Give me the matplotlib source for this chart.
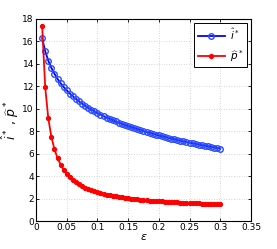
import matplotlib
matplotlib.use("Agg")
import matplotlib.pyplot as plt

eps = [0.010, 0.015, 0.020, 0.025, 0.030, 0.035, 0.040, 0.045, 0.050, 0.055,
       0.060, 0.065, 0.070, 0.075, 0.080, 0.085, 0.090, 0.095, 0.100, 0.105,
       0.110, 0.115, 0.120, 0.125, 0.130, 0.135, 0.140, 0.145, 0.150, 0.155,
       0.160, 0.165, 0.170, 0.175, 0.180, 0.185, 0.190, 0.195, 0.200, 0.205,
       0.210, 0.215, 0.220, 0.225, 0.230, 0.235, 0.240, 0.245, 0.250, 0.255,
       0.260, 0.265, 0.270, 0.275, 0.280, 0.285, 0.290, 0.295, 0.300]

i_star = [16.30, 15.12, 14.29, 13.64, 13.12, 12.67, 12.28, 11.94, 11.64, 11.36,
          11.11, 10.88, 10.66, 10.46, 10.27, 10.10, 9.93, 9.78, 9.63, 9.49,
          9.35, 9.22, 9.10, 8.98, 8.87, 8.76, 8.65, 8.55, 8.45, 8.36,
          8.27, 8.18, 8.09, 8.01, 7.93, 7.85, 7.77, 7.69, 7.62, 7.55,
          7.48, 7.41, 7.35, 7.28, 7.22, 7.15, 7.09, 7.03, 6.97, 6.92,
          6.86, 6.81, 6.75, 6.70, 6.65, 6.60, 6.55, 6.50, 6.45]

p_star = [17.40, 11.90, 9.15, 7.50, 6.40, 5.61, 5.03, 4.57, 4.20, 3.90,
          3.65, 3.44, 3.26, 3.10, 2.96, 2.84, 2.73, 2.64, 2.56, 2.48,
          2.41, 2.35, 2.29, 2.24, 2.19, 2.14, 2.10, 2.06, 2.02, 1.99,
          1.96, 1.93, 1.90, 1.87, 1.85, 1.82, 1.80, 1.78, 1.76, 1.74,
          1.72, 1.70, 1.69, 1.67, 1.66, 1.64, 1.63, 1.62, 1.60, 1.59,
          1.58, 1.57, 1.56, 1.55, 1.54, 1.53, 1.52, 1.51, 1.50]

xticks = [0, 0.05, 0.1, 0.15, 0.2, 0.25, 0.3, 0.35]
xticklabels = ["0", "0.05", "0.1", "0.15", "0.2", "0.25", "0.3", "0.35"]
yticks = [0, 2, 4, 6, 8, 10, 12, 14, 16, 18]

fig = plt.figure(figsize=(2.77, 2.49), dpi=100)
ax = fig.add_axes([0.130, 0.1124, 0.776, 0.8113])

ax.plot(eps, i_star, color="#0000ff", lw=1.3, marker="o", ms=4.0,
        mfc="none", mec="#2a4cff", mew=1.0, label=r"$\widehat{i}^*$", zorder=3)
ax.plot(eps, p_star, color="#ff0000", lw=1.3, marker="o", ms=2.8,
        mfc="#ff0000", mec="#ff0000", label=r"$\widehat{p}^*$", zorder=3)

ax.set_xlim(0, 0.35)
ax.set_ylim(0, 18)
ax.set_xticks(xticks)
ax.set_xticklabels(xticklabels)
ax.set_yticks(yticks)
ax.tick_params(direction="in", length=2.5, width=0.6, labelsize=6.5, pad=1.5,
               top=True, right=True)
ax.grid(True, color="#c8c8c8", linestyle=(0, (1, 2)), lw=0.6)
for s in ax.spines.values():
    s.set_linewidth(0.8)
    s.set_color("black")

ax.set_xlabel(r"$\epsilon$", fontsize=8, labelpad=0)
ax.set_ylabel(r"$\widehat{i}^*$ , $\widehat{p}^*$", fontsize=9, labelpad=1)

leg = ax.legend(loc="upper right", fontsize=7.5, frameon=True, fancybox=False,
                edgecolor="black", framealpha=1, handlelength=2.6,
                borderpad=0.35, labelspacing=0.55, handletextpad=0.5,
                borderaxespad=0.35)
leg.get_frame().set_linewidth(0.7)

fig.savefig("out.png", dpi=100)
